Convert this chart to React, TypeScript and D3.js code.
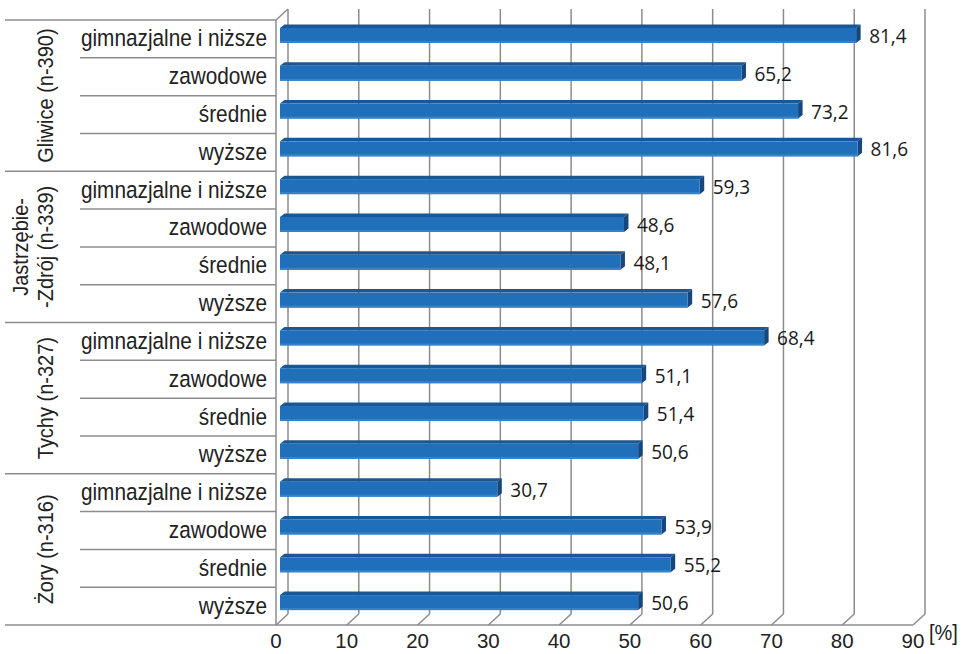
import React from "react";
import * as d3 from "d3";

const levels = ["gimnazjalne i niższe", "zawodowe", "średnie", "wyższe"];
const groups = [
	["Gliwice (n-390)"],
	["Jastrzębie-", "-Zdrój (n-339)"],
	["Tychy (n-327)"],
	["Żory (n-316)"],
];
const gliwice = [81.4, 65.2, 73.2, 81.6];
const jastrzebie = [59.3, 48.6, 48.1, 57.6];
const tychy = [68.4, 51.1, 51.4, 50.6];
const zory = [30.7, 53.9, 55.2, 50.6];
const ticks = [0, 10, 20, 30, 40, 50, 60, 70, 80, 90];

const seriesByGroup = [gliwice, jastrzebie, tychy, zory];

const W = 961;
const H = 654;
const left = 276;
const right = 913;
const top = 20;
const bottom = 625;
const depthX = 12;
const depthY = -11;

const fmt = (v: number) => v.toFixed(1).replace(".", ",");

export default function App() {
	const rows = seriesByGroup.flatMap((vals, g) =>
		vals.map((v, i) => ({ g, i, v, key: `${g}-${i}` }))
	);
	const x = d3.scaleLinear().domain([0, 90]).range([left, right]);
	const y = d3
		.scaleBand<string>()
		.domain(rows.map((r) => r.key))
		.range([top, bottom])
		.padding(0);
	const bw = y.bandwidth();
	const grid = "#8c8c8c";
	const arial = "'Liberation Sans', Arial, sans-serif";

	// bar geometry (sits slightly into the depth)
	const bx = 4;
	const dx = 4.5;
	const dy = 3.5;

	return (
		<svg
			width={W}
			height={H}
			style={{ position: "absolute", left: 0, top: 0, background: "#fff" }}
		>
			{/* back wall gridlines */}
			{ticks.map((t) => (
				<g key={t} stroke={grid} strokeWidth={1.5} fill="none">
					<line x1={x(t) + depthX} x2={x(t) + depthX} y1={top + depthY} y2={bottom + depthY} />
					<line x1={x(t)} y1={bottom} x2={x(t) + depthX} y2={bottom + depthY} />
				</g>
			))}
			{/* left front edge and top slant */}
			<line x1={left} x2={left} y1={top} y2={bottom} stroke={grid} strokeWidth={1.5} />
			<line x1={left} y1={top} x2={left + depthX} y2={top + depthY} stroke={grid} strokeWidth={1.5} />
			{/* bottom front edge */}
			<line x1={5} x2={right} y1={bottom} y2={bottom} stroke={grid} strokeWidth={1.5} />

			{/* category table lines */}
			{rows.map((r) => {
				const yy = y(r.key)!;
				return (
					<line
						key={"l" + r.key}
						x1={r.i === 0 ? 5 : 80}
						x2={left}
						y1={yy}
						y2={yy}
						stroke={grid}
						strokeWidth={1.5}
					/>
				);
			})}

			{/* bars */}
			{rows.map((r) => {
				const cy = y(r.key)! + bw / 2;
				const x0 = x(0) + bx;
				const x1 = x(r.v) + bx;
				const yt = cy - 11;
				const yb = cy + 4;
				return (
					<g key={"b" + r.key}>
						<polygon
							points={`${x0},${yt} ${x0 + dx},${yt - dy} ${x1 + dx},${yt - dy} ${x1},${yt}`}
							fill="#1b5795"
						/>
						<polygon
							points={`${x1},${yt} ${x1 + dx},${yt - dy} ${x1 + dx},${yb - dy} ${x1},${yb}`}
							fill="#16477c"
						/>
						<rect x={x0} y={yt} width={x1 - x0} height={yb - yt} fill="#1f6fbb" />
						<rect x={x0} y={yb - 2} width={x1 - x0} height={2} fill="#3783c9" />
						<text
							transform={`translate(${x1 + 13},${cy + 4}) scale(1,1.08)`}
							fontFamily="'Open Sans', sans-serif"
							fontSize={19}
							fill="#1a1a1a"
						>
							{fmt(r.v)}
						</text>
					</g>
				);
			})}

			{/* level labels */}
			{rows.map((r) => (
				<text
					key={"t" + r.key}
					transform={`translate(267,${y(r.key)! + bw / 2 + 7.5}) scale(1,1.12)`}
					textAnchor="end"
					fontFamily={arial}
					fontSize={20.8}
					fill="#222"
				>
					{levels[r.i]}
				</text>
			))}

			{/* group labels */}
			{groups.map((lines, g) => {
				const cy = top + bw * 4 * g + bw * 2;
				const xs = lines.length === 1 ? [45] : [20, 45];
				return lines.map((ln, k) => (
					<text
						key={"g" + g + k}
						transform={`translate(${xs[k]},${cy}) rotate(-90) scale(1,1.1)`}
						textAnchor="middle"
						dominantBaseline="central"
						fontFamily={arial}
						fontSize={20}
						fill="#222"
					>
						{ln}
					</text>
				));
			})}

			{/* x tick labels */}
			{ticks.map((t) => (
				<text
					key={"x" + t}
					x={x(t)}
					y={648}
					textAnchor="middle"
					fontFamily={arial}
					fontSize={20.5}
					fill="#222"
				>
					{t}
				</text>
			))}
			<text
				transform="translate(929,640) scale(1,1.1)"
				fontFamily={arial}
				fontSize={20}
				fill="#222"
			>
				[%]
			</text>
		</svg>
	);
}
